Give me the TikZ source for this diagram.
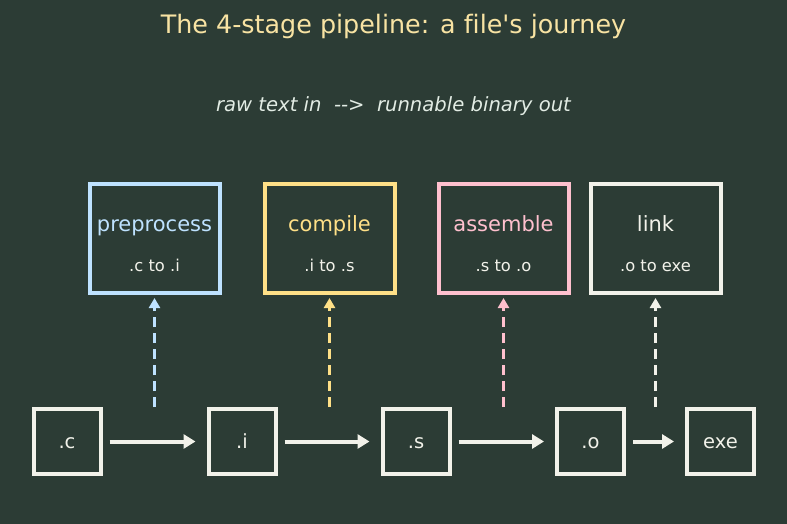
\documentclass[tikz,border=0pt]{standalone}
\usepackage{fontspec}
\setmainfont{DejaVu Sans}[Ligatures={TeXOff,NoCommon}]
\usetikzlibrary{arrows.meta,positioning}

\definecolor{bgcol}{RGB}{44,60,53}
\definecolor{titlecol}{RGB}{248,227,163}
\definecolor{subcol}{RGB}{226,236,228}
\definecolor{filecol}{RGB}{242,242,234}
\definecolor{precol}{RGB}{190,226,255}
\definecolor{compcol}{RGB}{255,224,135}
\definecolor{asmcol}{RGB}{255,192,206}
\definecolor{linkcol}{RGB}{242,242,234}

\begin{document}
\begin{tikzpicture}[x=1pt,y=-1pt]
\tikzset{
  stagebox/.style={draw=#1,line width=4pt,minimum width=130pt,minimum height=109pt,inner sep=0pt},
  filebox/.style={draw=filecol,line width=4pt,minimum width=67pt,minimum height=65pt,inner sep=0pt},
  filename/.style={anchor=base,text=filecol,font=\fontsize{19.5}{23}\selectfont},
  stagename/.style={anchor=base,text=#1,font=\fontsize{21}{25}\selectfont},
  stagesub/.style={anchor=base,text=filecol,font=\fontsize{16.3}{19}\selectfont},
  flow/.style={draw=filecol,line width=4pt,-{Triangle[length=12pt,width=14pt]},shorten <=7pt,shorten >=11pt},
  feed/.style={draw=#1,line width=3.5pt,dash pattern=on 10pt off 6pt,-{Triangle[length=10pt,width=11pt]},shorten >=3pt}
}
\useasboundingbox[fill=bgcol] (0,0) rectangle (787,524);
\node[anchor=base,text=titlecol,font=\fontsize{25.4}{30}\selectfont] (title) at (393.5,34) {The 4-stage pipeline: a file's journey};
\node[anchor=base,text=subcol,font=\fontsize{19.6}{23}\selectfont\itshape] (subtitle) at (393.5,112) {raw text in\ \ -->\ \ runnable binary out};
% stages
\node[stagebox=precol] (s_pre) at (154.5,238.5) {};
\node[stagebox=compcol] (s_comp) at (329.5,238.5) {};
\node[stagebox=asmcol] (s_asm) at (503.5,238.5) {};
\node[stagebox=linkcol] (s_link) at (655.5,238.5) {};
\node[stagename=precol] (n_pre) at (154.5,231) {preprocess};
\node[stagename=compcol] (n_comp) at (329.5,231) {compile};
\node[stagename=asmcol] (n_asm) at (503.5,231) {assemble};
\node[stagename=linkcol] (n_link) at (655.5,231) {link};
\node[stagesub] (t_pre) at (154.5,271) {.c to .i};
\node[stagesub] (t_comp) at (329.5,271) {.i to .s};
\node[stagesub] (t_asm) at (503.5,271) {.s to .o};
\node[stagesub] (t_link) at (655.5,271) {.o to exe};
% files
\node[filebox] (f_c) at (67,441.5) {};
\node[filebox] (f_i) at (242,441.5) {};
\node[filebox] (f_s) at (416,441.5) {};
\node[filebox] (f_o) at (590.5,441.5) {};
\node[filebox] (f_exe) at (720.5,441.5) {};
\node[filename] (l_c) at (67,448) {.c};
\node[filename] (l_i) at (242,448) {.i};
\node[filename] (l_s) at (416,448) {.s};
\node[filename] (l_o) at (590.5,448) {.o};
\node[filename] (l_exe) at (720.5,448) {exe};
\draw[flow] (f_c) -- (f_i);
\draw[flow] (f_i) -- (f_s);
\draw[flow] (f_s) -- (f_o);
\draw[flow] (f_o) -- (f_exe);
% feeds into stages
\coordinate (c_pre) at (154.5,407);
\coordinate (c_comp) at (329.5,407);
\coordinate (c_asm) at (503.5,407);
\coordinate (c_link) at (655.5,407);
\draw[feed=precol] (c_pre) -- (s_pre);
\draw[feed=compcol] (c_comp) -- (s_comp);
\draw[feed=asmcol] (c_asm) -- (s_asm);
\draw[feed=linkcol] (c_link) -- (s_link);
\end{tikzpicture}
\end{document}
